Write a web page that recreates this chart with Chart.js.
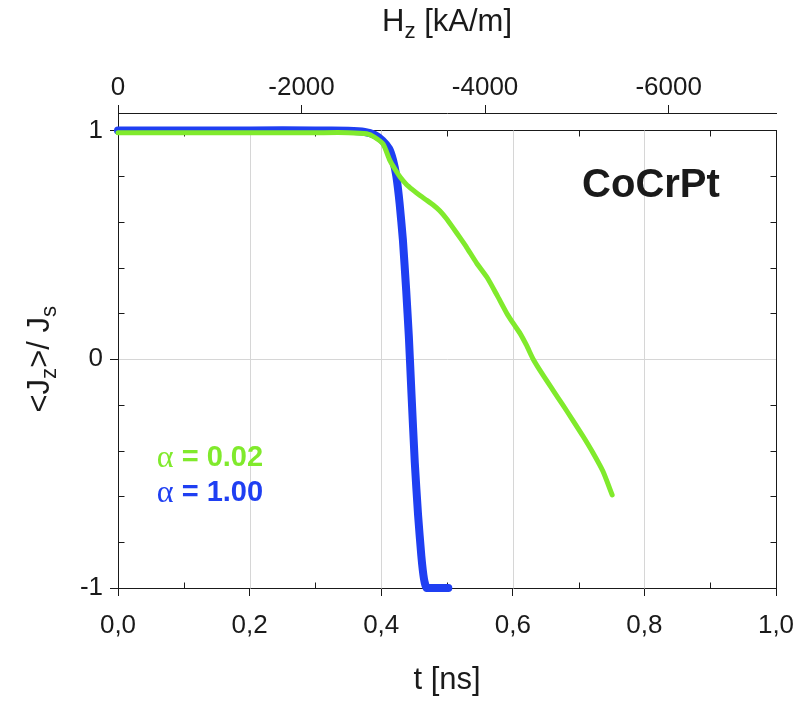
<!DOCTYPE html>
<html>
<head>
<meta charset="utf-8">
<script src="https://cdn.jsdelivr.net/npm/chart.js@4/dist/chart.umd.min.js"></script>
<style>
  html, body { margin: 0; padding: 0; background: #fff; }
</style>
</head>
<body>
<canvas id="chart" width="796" height="702"></canvas>
<script>
// alpha = 1.00 (blue)
const tBlue = [0, 0.1, 0.2, 0.3, 0.35, 0.375, 0.39, 0.402, 0.412, 0.418, 0.423, 0.428, 0.433, 0.438, 0.442, 0.446, 0.451, 0.456, 0.461, 0.465, 0.469, 0.48, 0.49, 0.502];
const jBlue = [1, 1, 1, 1, 0.998, 0.993, 0.98, 0.955, 0.92, 0.87, 0.8, 0.68, 0.52, 0.3, 0.1, -0.15, -0.45, -0.68, -0.86, -0.96, -1, -1, -1, -1];
// alpha = 0.02 (green)
const tGreen = [0, 0.1, 0.2, 0.3, 0.35, 0.378, 0.39, 0.403, 0.413, 0.421, 0.429, 0.438, 0.448, 0.459, 0.47, 0.48, 0.489, 0.499, 0.509, 0.52, 0.53, 0.545, 0.561, 0.576, 0.591, 0.601, 0.611, 0.621, 0.631, 0.646, 0.661, 0.676, 0.691, 0.707, 0.722, 0.737, 0.751];
const jGreen = [0.99, 0.99, 0.99, 0.99, 0.99, 0.985, 0.97, 0.94, 0.87, 0.83, 0.795, 0.765, 0.74, 0.715, 0.693, 0.672, 0.649, 0.615, 0.575, 0.53, 0.488, 0.42, 0.357, 0.28, 0.2, 0.155, 0.113, 0.06, 0.0, -0.07, -0.135, -0.2, -0.266, -0.338, -0.41, -0.49, -0.593];

const tTicks = [0, 0.1, 0.2, 0.3, 0.4, 0.5, 0.6, 0.7, 0.8, 0.9, 1.0];
const jTicks = [-1, -0.8, -0.6, -0.4, -0.2, 0, 0.2, 0.4, 0.6, 0.8, 1];
const jLabeled = [-1, 0, 1];
const hzTicks = [0, -2000, -4000, -6000];
const hzAtEnd = -7170;   // field at t = 1.0 ns
const jTop = 1.076;      // room above the frame for the Hz axis

const BLUE = '#1f3ff2';
const GREEN = '#80ea2c';
const INK = '#1a1a1a';
const SANS = "'Liberation Sans', Arial, sans-serif";

function line(ctx, x1, y1, x2, y2) {
  ctx.beginPath();
  ctx.moveTo(x1, y1);
  ctx.lineTo(x2, y2);
  ctx.stroke();
}

// text with subscripts, centred on (0,0) of current transform
function richText(ctx, parts, size) {
  let w = 0;
  parts.forEach(p => {
    ctx.font = (p.sub ? size * 0.72 : size) + 'px ' + SANS;
    p.w = ctx.measureText(p.t).width;
    w += p.w;
  });
  let x = -w / 2;
  ctx.textBaseline = 'middle';
  ctx.textAlign = 'left';
  parts.forEach(p => {
    ctx.font = (p.sub ? size * 0.72 : size) + 'px ' + SANS;
    ctx.fillText(p.t, x, p.sub ? size * 0.32 : 0);
    x += p.w;
  });
}

const framePlugin = {
  id: 'frame',
  beforeDatasetsDraw(chart) {
    const {ctx, scales: {x, y}} = chart;
    const top = Math.round(y.getPixelForValue(1)) + 0.5;
    const bot = Math.round(y.getPixelForValue(-1)) + 0.5;
    const left = Math.round(x.getPixelForValue(0)) + 0.5;
    const right = Math.round(x.getPixelForValue(1)) + 0.5;
    ctx.save();
    ctx.lineWidth = 1;
    ctx.strokeStyle = '#d6d6d6';
    tTicks.forEach((t, i) => {
      if (i % 2 === 0 && t > 0 && t < 1) {
        const px = Math.round(x.getPixelForValue(t)) + 0.5;
        line(ctx, px, top, px, bot);
      }
    });
    ctx.strokeStyle = INK;
    line(ctx, right, top - 0.5, right, bot);
    tTicks.forEach((t, i) => {
      if (i % 2 === 1) {
        const px = Math.round(x.getPixelForValue(t)) + 0.5;
        line(ctx, px, bot, px, bot - 6);
        line(ctx, px, top, px, top + 6);
      }
    });
    jTicks.forEach(v => {
      if (!jLabeled.includes(v)) {
        const py = Math.round(y.getPixelForValue(v)) + 0.5;
        line(ctx, left, py, left + 6, py);
        line(ctx, right, py, right - 6, py);
      }
    });
    ctx.restore();
  },
  afterDraw(chart) {
    const {ctx, chartArea, scales: {x, y}} = chart;
    ctx.save();
    ctx.fillStyle = INK;
    // top axis title
    ctx.save();
    ctx.translate((chartArea.left + chartArea.right) / 2, 22);
    richText(ctx, [{t: 'H'}, {t: 'z', sub: true}, {t: ' [kA/m]'}], 31);
    ctx.restore();
    // y axis title
    ctx.save();
    ctx.translate(40, (y.getPixelForValue(1) + y.getPixelForValue(-1)) / 2);
    ctx.rotate(-Math.PI / 2);
    richText(ctx, [{t: '<J'}, {t: 'z', sub: true}, {t: '>/ J'}, {t: 's', sub: true}], 31);
    ctx.restore();
    // sample name
    ctx.font = 'bold 40px ' + SANS;
    ctx.textAlign = 'center';
    ctx.textBaseline = 'middle';
    ctx.fillText('CoCrPt', x.getPixelForValue(0.81), y.getPixelForValue(0.755));
    // damping labels
    const labels = [
      {a: '0.02', c: GREEN, j: -0.432},
      {a: '1.00', c: BLUE, j: -0.585}
    ];
    labels.forEach(l => {
      const px = x.getPixelForValue(0.059);
      const py = y.getPixelForValue(l.j);
      ctx.fillStyle = l.c;
      ctx.textAlign = 'left';
      ctx.textBaseline = 'middle';
      ctx.font = "32px 'Liberation Serif', 'DejaVu Serif', serif";
      ctx.fillText('\u03b1', px, py + 1);
      const w = ctx.measureText('\u03b1').width;
      ctx.font = 'bold 29px ' + SANS;
      ctx.fillText(' = ' + l.a, px + w, py);
    });
    ctx.restore();
  }
};

new Chart(document.getElementById('chart'), {
  type: 'line',
  data: {
    datasets: [{
      label: 'alpha = 0.02',
      data: tGreen.map((t, i) => ({x: t, y: jGreen[i]})),
      borderColor: GREEN,
      borderWidth: 5,
      pointRadius: 0,
      tension: 0.2,
      borderCapStyle: 'round',
      borderJoinStyle: 'round',
      clip: false
    }, {
      label: 'alpha = 1.00',
      data: tBlue.map((t, i) => ({x: t, y: jBlue[i]})),
      borderColor: BLUE,
      borderWidth: 8,
      pointRadius: 0,
      tension: 0.15,
      borderCapStyle: 'round',
      borderJoinStyle: 'round',
      clip: false
    }]
  },
  plugins: [framePlugin],
  options: {
    responsive: false,
    animation: false,
    layout: {padding: {left: 0, right: 20, top: 0, bottom: 0}},
    plugins: {legend: {display: false}, tooltip: {enabled: false}},
    scales: {
      x: {
        type: 'linear',
        position: 'bottom',
        min: 0,
        max: 1,
        afterBuildTicks: s => { s.ticks = tTicks.map(v => ({value: v})); },
        afterFit: s => { s.height = 114; s.paddingRight = 0; s.paddingLeft = 0; },
        ticks: {
          autoSkip: false,
          maxRotation: 0,
          padding: 14,
          color: INK,
          font: {family: SANS, size: 26},
          callback: (v, i) => i % 2 === 0 ? v.toFixed(1).replace('.', ',') : ''
        },
        grid: {
          drawOnChartArea: false,
          tickLength: 8,
          tickColor: c => c.index % 2 === 0 ? INK : 'rgba(0,0,0,0)'
        },
        border: {color: INK, width: 1},
        title: {
          display: true,
          text: 't [ns]',
          color: INK,
          font: {family: SANS, size: 31},
          padding: {top: 0, bottom: 3}
        }
      },
      x2: {
        type: 'linear',
        position: 'top',
        min: hzAtEnd,
        max: 0,
        reverse: true,
        afterBuildTicks: s => { s.ticks = hzTicks.map(v => ({value: v})); },
        afterFit: s => { s.height = 113; s.paddingRight = 0; s.paddingLeft = 0; },
        ticks: {
          autoSkip: false,
          maxRotation: 0,
          padding: 2,
          color: INK,
          font: {family: SANS, size: 26},
          callback: v => String(v)
        },
        grid: {drawOnChartArea: false, tickLength: 8, tickColor: INK},
        border: {color: INK, width: 1}
      },
      y: {
        type: 'linear',
        min: -1,
        max: jTop,
        afterBuildTicks: s => { s.ticks = jTicks.map(v => ({value: v})); },
        afterFit: s => { s.width = 118; s.paddingTop = 0; s.paddingBottom = 0; },
        ticks: {
          autoSkip: false,
          padding: 7,
          color: INK,
          font: {family: SANS, size: 26},
          callback: v => jLabeled.includes(v) ? String(v) : ''
        },
        grid: {
          tickLength: 8,
          color: c => c.tick && c.tick.value === 0 ? '#d6d6d6' : (c.tick && c.tick.value === 1 ? INK : 'rgba(0,0,0,0)'),
          tickColor: c => c.tick && jLabeled.includes(c.tick.value) ? INK : 'rgba(0,0,0,0)'
        },
        border: {color: INK, width: 1}
      }
    }
  }
});
</script>
</body>
</html>
